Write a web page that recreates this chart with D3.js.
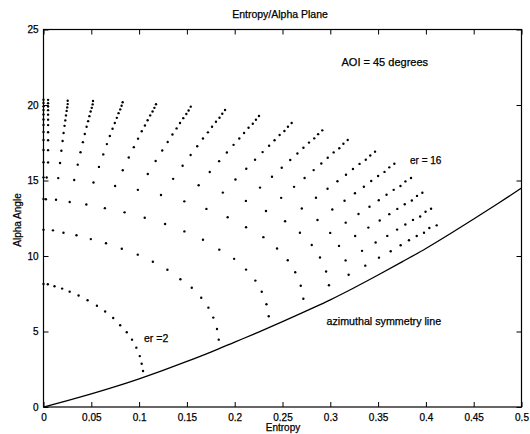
<!DOCTYPE html>
<html>
<head>
<meta charset="utf-8">
<script src="https://cdn.jsdelivr.net/npm/d3@7"></script>
<style>
  html, body { margin: 0; padding: 0; background: #fff; }
  svg { display: block; font-family: "Liberation Sans", Arial, Helvetica, sans-serif; }
</style>
</head>
<body>
<svg id="chart" width="530" height="434"></svg>
<script>
// ---- data (entropy, alpha) ----
const erValues = [2, 3, 4, 5, 6, 7, 8, 9, 10, 11, 12, 13, 14, 15, 16];

const er2 = [[0,8.15],[.0045,8.13],[.0115,8.00],[.0195,7.84],[.0274,7.64],[.0367,7.38],[.0461,7.07],[.0559,6.71],[.0645,6.32],[.0729,5.89],[.0802,5.41],[.0871,4.95],[.0926,4.46],[.0971,3.93],[.1007,3.37],[.1027,2.86],[.1041,2.38]];
const er3 = [[0,11.74],[.0099,11.70],[.0209,11.54],[.0345,11.37],[.0495,11.12],[.0654,10.84],[.0819,10.48],[.0986,10.09],[.1144,9.62],[.1296,9.09],[.1432,8.46],[.1551,7.90],[.1650,7.24],[.1725,6.58],[.1776,5.92],[.1815,5.17],[.1833,4.46]];
const er4 = [[0,13.77],[.0025,13.76],[.0131,13.73],[.0274,13.58],[.0448,13.41],[.0642,13.17],[.0848,12.89],[.1059,12.53],[.1272,12.12],[.1474,11.63],[.1668,11.08],[.1839,10.42],[.1994,9.81],[.2119,9.10],[.2216,8.37],[.2283,7.63],[.2332,6.80],[.2356,6.01]];
const er5 = [[0,15.21],[.0033,15.20],[.0154,15.16],[.0321,15.03],[.0523,14.87],[.0749,14.64],[.0987,14.38],[.1229,14.04],[.1473,13.62],[.1704,13.12],[.1926,12.57],[.2119,11.90],[.2300,11.25],[.2443,10.50],[.2555,9.72],[.2633,8.92],[.2691,8.03],[.2718,7.17]];
const er6 = [[0,16.21],[.0048,16.20],[.0173,16.16],[.0358,16.05],[.0580,15.90],[.0829,15.68],[.1091,15.43],[.1356,15.11],[.1623,14.69],[.1876,14.20],[.2117,13.65],[.2327,12.98],[.2527,12.30],[.2682,11.54],[.2806,10.73],[.2892,9.90],[.2956,8.97],[.2986,8.06]];
const er7 = [[0,17.02],[.0048,17.01],[.0187,16.97],[.0387,16.87],[.0625,16.73],[.0892,16.52],[.1173,16.29],[.1455,15.98],[.1739,15.56],[.2008,15.07],[.2265,14.53],[.2486,13.85],[.2702,13.15],[.2866,12.38],[.2999,11.53],[.3091,10.67],[.3160,9.71],[.3192,8.76]];
const er8 = [[0,17.68],[.0048,17.67],[.0200,17.62],[.0412,17.54],[.0663,17.41],[.0945,17.21],[.1242,16.99],[.1539,16.69],[.1837,16.28],[.2121,15.78],[.2390,15.25],[.2621,14.58],[.2850,13.86],[.3021,13.08],[.3161,12.21],[.3260,11.32],[.3332,10.34],[.3366,9.36]];
const er9 = [[0,18.21],[.0048,18.20],[.0210,18.15],[.0432,18.08],[.0694,17.95],[.0989,17.77],[.1299,17.55],[.1608,17.27],[.1918,16.85],[.2213,16.37],[.2492,15.84],[.2731,15.17],[.2971,14.45],[.3149,13.66],[.3295,12.78],[.3398,11.88],[.3474,10.89],[.3509,9.89]];
const er10 = [[0,18.68],[.0048,18.67],[.0220,18.62],[.0451,18.56],[.0722,18.43],[.1028,18.26],[.1349,18.05],[.1668,17.78],[.1988,17.36],[.2292,16.88],[.2581,16.36],[.2826,15.69],[.3075,14.95],[.3258,14.16],[.3410,13.26],[.3517,12.35],[.3596,11.33],[.3632,10.31]];
const er11 = [[0,19.04],[.0048,19.03],[.0228,18.98],[.0467,18.93],[.0746,18.81],[.1061,18.64],[.1392,18.45],[.1720,18.19],[.2048,17.78],[.2360,17.30],[.2656,16.79],[.2906,16.13],[.3164,15.38],[.3351,14.59],[.3507,13.69],[.3617,12.77],[.3699,11.75],[.3736,10.71]];
const er12 = [[0,19.37],[.0048,19.36],[.0235,19.31],[.0480,19.26],[.0767,19.15],[.1089,18.99],[.1428,18.81],[.1763,18.56],[.2098,18.15],[.2417,17.67],[.2719,17.17],[.2973,16.51],[.3237,15.76],[.3428,14.97],[.3588,14.06],[.3701,13.12],[.3785,12.09],[.3823,11.04]];
const er13 = [[0,19.67],[.0048,19.66],[.0242,19.61],[.0493,19.57],[.0785,19.46],[.1116,19.31],[.1462,19.13],[.1804,18.89],[.2145,18.49],[.2470,18.01],[.2777,17.51],[.3035,16.86],[.3306,16.10],[.3500,15.30],[.3663,14.38],[.3779,13.43],[.3865,12.39],[.3904,11.32]];
const er14 = [[0,19.91],[.0048,19.90],[.0248,19.84],[.0505,19.81],[.0803,19.71],[.1141,19.57],[.1494,19.40],[.1841,19.16],[.2189,18.76],[.2520,18.28],[.2832,17.79],[.3094,17.14],[.3371,16.37],[.3567,15.57],[.3734,14.64],[.3853,13.68],[.3940,12.62],[.3980,11.54]];
const er15 = [[0,20.13],[.0048,20.12],[.0253,20.06],[.0514,20.04],[.0817,19.95],[.1160,19.81],[.1518,19.64],[.1870,19.42],[.2222,19.02],[.2557,18.56],[.2873,18.07],[.3137,17.43],[.3418,16.66],[.3617,15.87],[.3786,14.94],[.3907,13.98],[.3996,12.93],[.4036,11.85]];
const er16 = [[0,20.35],[.0048,20.34],[.0253,20.28],[.0518,20.26],[.0828,20.18],[.1177,20.05],[.1540,19.89],[.1899,19.67],[.2254,19.27],[.2596,18.81],[.2916,18.32],[.3182,17.68],[.3468,16.91],[.3670,16.11],[.3844,15.17],[.3963,14.19],[.4054,13.13],[.4113,12.03]];

// azimuthal symmetry line
const symEntropy = [0, .025, .05, .075, .1, .125, .15, .175, .2, .225, .25, .275, .3, .325, .35, .375, .4, .425, .45, .475, .5];
const symAlpha   = [0, .42, .87, 1.35, 1.87, 2.43, 3.02, 3.64, 4.30, 4.96, 5.65, 6.37, 7.10, 7.90, 8.74, 9.61, 10.50, 11.46, 12.45, 13.46, 14.50];

const xTicks = [0, 0.05, 0.1, 0.15, 0.2, 0.25, 0.3, 0.35, 0.4, 0.45, 0.5];
const xTickLabels = ["0", "0.05", "0.1", "0.15", "0.2", "0.25", "0.3", "0.35", "0.4", "0.45", "0.5"];
const yTicks = [0, 5, 10, 15, 20, 25];
const yTickLabels = ["0", "5", "10", "15", "20", "25"];

const curves = [er2, er3, er4, er5, er6, er7, er8, er9, er10, er11, er12, er13, er14, er15, er16]
  .map((pts, i) => ({ er: erValues[i], pts }));

// ---- drawing ----
const svg = d3.select("#chart");
const L = 43.5, R = 521.5, T = 29.5, B = 407;
const x = d3.scaleLinear().domain([0, 0.5]).range([L, R]);
const y = d3.scaleLinear().domain([0, 25]).range([B, T]);
const FONT = "'Liberation Sans', Arial, Helvetica, sans-serif";

svg.append("rect").attr("width", 530).attr("height", 434).attr("fill", "#fff");

// dots
const gDots = svg.append("g");
curves.forEach(c => {
  gDots.selectAll(null).data(c.pts).enter().append("circle")
    .attr("cx", d => x(d[0])).attr("cy", d => y(d[1]))
    .attr("r", 1.2).attr("fill", "#000");
});

// symmetry line
const symData = symEntropy.map((h, i) => [h, symAlpha[i]]);
svg.append("path").datum(symData)
  .attr("fill", "none").attr("stroke", "#000").attr("stroke-width", 1.3)
  .attr("d", d3.line().x(d => x(d[0])).y(d => y(d[1])).curve(d3.curveMonotoneX));

// axes (MATLAB style box with inward ticks)
const tickLen = 5;
const axStyle = g => {
  g.select(".domain").remove();
  g.selectAll(".tick line").attr("stroke", "#000").attr("stroke-width", 1);
  g.selectAll(".tick text").attr("fill", "#000").style("font-size", "10px")
    .style("font-family", FONT).attr("stroke", "#000").attr("stroke-width", 0.25);
};
svg.append("g").attr("transform", `translate(0,${B})`)
  .call(d3.axisBottom(x).tickValues(xTicks).tickFormat((d, i) => xTickLabels[i])
    .tickSizeInner(-tickLen).tickSizeOuter(0).tickPadding(6.5))
  .call(axStyle);
svg.append("g").attr("transform", `translate(0,${T})`)
  .call(d3.axisTop(x).tickValues(xTicks).tickFormat("").tickSizeInner(-tickLen).tickSizeOuter(0))
  .call(axStyle);
svg.append("g").attr("transform", `translate(${L},0)`)
  .call(d3.axisLeft(y).tickValues(yTicks).tickFormat((d, i) => yTickLabels[i])
    .tickSizeInner(-tickLen).tickSizeOuter(0).tickPadding(5))
  .call(axStyle);
svg.append("g").attr("transform", `translate(${R},0)`)
  .call(d3.axisRight(y).tickValues(yTicks).tickFormat("").tickSizeInner(-tickLen).tickSizeOuter(0))
  .call(axStyle);

svg.append("rect").attr("x", L).attr("y", T).attr("width", R - L).attr("height", B - T)
  .attr("fill", "none").attr("stroke", "#000").attr("stroke-width", 1.2);

// texts
const txt = (s, tx, ty, size, anchor) => svg.append("text")
  .attr("x", tx).attr("y", ty).attr("text-anchor", anchor || "start")
  .style("font-size", size + "px").style("font-family", FONT)
  .attr("fill", "#000").attr("stroke", "#000").attr("stroke-width", 0.25).text(s);

txt("Entropy/Alpha Plane", 280, 18, 10.5, "middle");
txt("AOI = 45 degrees", 341.5, 65.5, 11);
txt("er = 16", 410, 163.5, 10);
txt("er =2", 144, 341.5, 10.5);
txt("azimuthal symmetry line", 326.5, 325, 10.7);
txt("Entropy", 283, 431, 10, "middle");
svg.append("text").attr("transform", "translate(21,220) rotate(-90)")
  .attr("text-anchor", "middle").style("font-size", "10px").style("font-family", FONT)
  .attr("fill", "#000").attr("stroke", "#000").attr("stroke-width", 0.25)
  .text("Alpha Angle");
</script>
</body>
</html>
